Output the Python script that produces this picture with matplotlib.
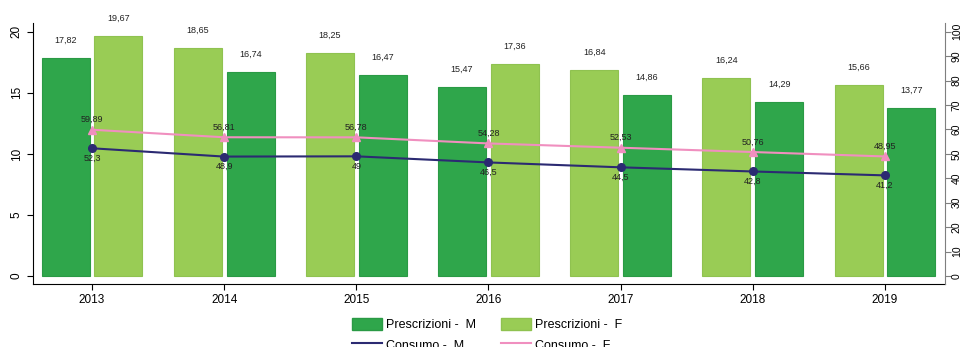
import matplotlib
matplotlib.use("Agg")
import matplotlib.pyplot as plt
from matplotlib.patches import Patch
from matplotlib.lines import Line2D
import numpy as np

plt.rcParams['font.family'] = ['Liberation Sans', 'DejaVu Sans']

years = ['2013', '2014', '2015', '2016', '2017', '2018', '2019']
presc_M = [17.82, 16.74, 16.47, 15.47, 14.86, 14.29, 13.77]
presc_F = [19.67, 18.65, 18.25, 17.36, 16.84, 16.24, 15.66]
m_left = [True, False, False, True, False, False, False]
cons_M = [52.3, 48.9, 49, 46.5, 44.5, 42.8, 41.2]
cons_F = [59.89, 56.81, 56.78, 54.28, 52.53, 50.76, 48.95]

c_M = '#2fa64b'
c_F = '#99cc55'
c_lM = '#2b2a72'
c_lF = '#f08fbf'

def fmt(v):
    s = ('%.2f' % v).rstrip('0').rstrip('.')
    return s.replace('.', ',')

fig = plt.figure(figsize=(9.63, 3.47), dpi=100)
ax = fig.add_axes([0.0343, 0.1816, 0.9470, 0.7521])
x = np.arange(len(years))
w = 0.363
off = 0.20
posM = np.where(m_left, x - off, x + off)
posF = np.where(m_left, x + off, x - off)
ax.bar(posM, presc_M, width=w, color=c_M, edgecolor='#2a9a45', linewidth=0.8, zorder=2)
ax.bar(posF, presc_F, width=w, color=c_F, edgecolor='#8fc250', linewidth=0.8, zorder=2)
for p, v in zip(posM, presc_M):
    ax.annotate(fmt(v), (p, v), xytext=(0, 9.5), textcoords='offset points',
                ha='center', va='bottom', fontsize=6.5, color='#222222')
for p, v in zip(posF, presc_F):
    ax.annotate(fmt(v), (p, v), xytext=(0, 9.5), textcoords='offset points',
                ha='center', va='bottom', fontsize=6.5, color='#222222')

ax.set_xlim(-0.446, 6.454)
ax.set_ylim(-0.655, 20.72)
ax.set_yticks([0, 5, 10, 15, 20])
ax.set_yticklabels(['0', '5', '10', '15', '20'], rotation=90, va='center', fontsize=8.5)
ax.set_xticks(x)
ax.set_xticklabels(years, fontsize=8.5)
ax.spines['top'].set_visible(False)
ax.spines['right'].set_visible(False)
ax.tick_params(axis='both', length=4, width=0.8, color='black')

ax2 = ax.twinx()
ax2.set_ylim(-3.275, 103.6)
ax2.set_yticks(range(0, 101, 10))
ax2.set_yticklabels([str(t) for t in range(0, 101, 10)], rotation=90, va='center', fontsize=7.5)
ax2.spines['top'].set_visible(False)
ax2.spines['left'].set_visible(False)
ax2.spines['bottom'].set_visible(False)
ax2.spines['right'].set_color('#7f7f7f')
ax2.tick_params(axis='y', length=4, width=0.8, color='#7f7f7f', pad=1)

ax2.plot(x, cons_F, color=c_lF, linewidth=1.5, marker='^', markersize=5.5, zorder=3)
ax2.plot(x, cons_M, color=c_lM, linewidth=1.5, marker='o', markersize=5.5, zorder=3)
for xi, v in zip(x, cons_F):
    ax2.annotate(fmt(v), (xi, v), xytext=(0, 4), textcoords='offset points',
                 ha='center', va='bottom', fontsize=6.5, color='#222222')
for xi, v in zip(x, cons_M):
    ax2.annotate(fmt(v), (xi, v), xytext=(0, -4), textcoords='offset points',
                 ha='center', va='top', fontsize=6.5, color='#222222')

handles = [Patch(facecolor=c_M, edgecolor='#2a9a45'),
           Line2D([], [], color=c_lM, linewidth=1.5),
           Patch(facecolor=c_F, edgecolor='#8fc250'),
           Line2D([], [], color=c_lF, linewidth=1.5)]
labels = ['Prescrizioni -  M', 'Consumo -  M', 'Prescrizioni -  F', 'Consumo -  F']
fig.legend(handles, labels, ncol=2, loc='upper left', bbox_to_anchor=(0.366, 0.083),
           frameon=False, fontsize=9, handlelength=2.4, handleheight=1.1,
           handletextpad=0.3, columnspacing=2.0, labelspacing=0.55, borderpad=0, borderaxespad=0)

fig.savefig('out.png', dpi=100)
